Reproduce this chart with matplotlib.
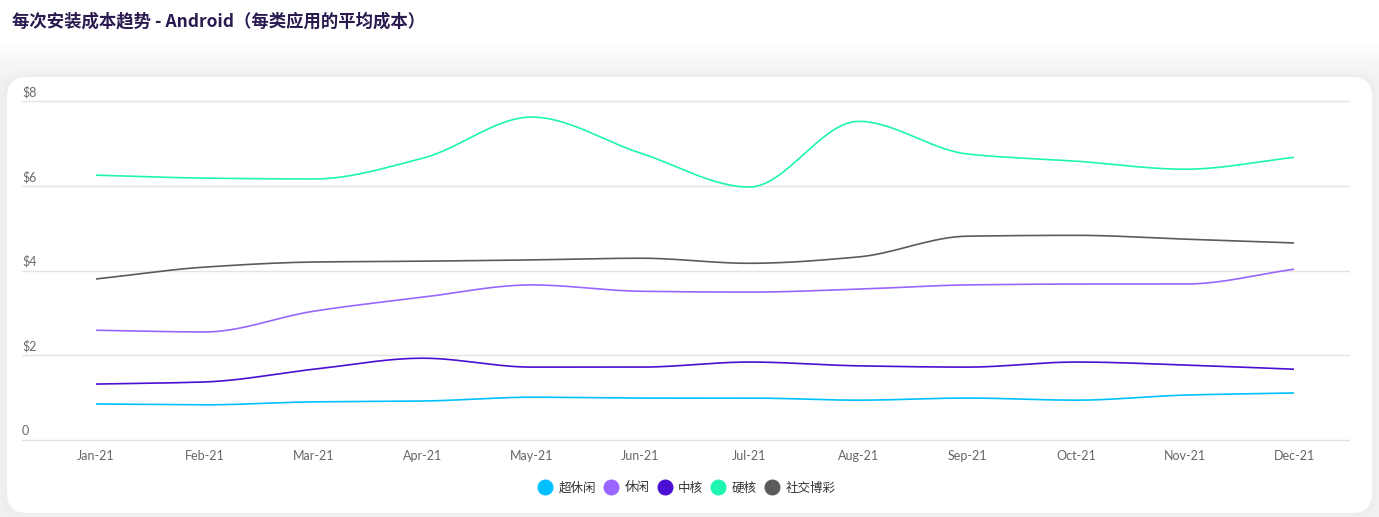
import numpy as np
import matplotlib
matplotlib.use("Agg")
import matplotlib.pyplot as plt
from matplotlib.patches import FancyBboxPatch
from matplotlib.lines import Line2D

plt.rcParams['font.family'] = ['Lato', 'Noto Sans CJK SC', 'DejaVu Sans']

title = "每次安装成本趋势 - Android（每类应用的平均成本）"
months = ["Jan-21", "Feb-21", "Mar-21", "Apr-21", "May-21", "Jun-21",
          "Jul-21", "Aug-21", "Sep-21", "Oct-21", "Nov-21", "Dec-21"]
series_names = ["超休闲", "休闲", "中核", "硬核", "社交博彩"]
hyper_casual = [0.85, 0.83, 0.90, 0.92, 1.01, 0.99, 0.99, 0.94, 0.99, 0.94, 1.06, 1.11]
casual = [2.59, 2.55, 3.04, 3.37, 3.66, 3.51, 3.49, 3.56, 3.66, 3.68, 3.68, 4.03]
midcore = [1.32, 1.37, 1.67, 1.93, 1.72, 1.72, 1.84, 1.75, 1.72, 1.84, 1.77, 1.67]
hardcore = [6.25, 6.18, 6.16, 6.65, 7.62, 6.77, 5.97, 7.52, 6.75, 6.58, 6.39, 6.67]
social_casino = [3.80, 4.08, 4.20, 4.22, 4.25, 4.29, 4.17, 4.32, 4.81, 4.83, 4.74, 4.65]
y_ticks = [0, 2, 4, 6, 8]
y_tick_labels = ["0", "$2", "$4", "$6", "$8"]

colors = ["#00c0ff", "#9966ff", "#4a0fd2", "#1ef5b0", "#5b5b5b"]
all_series = [hyper_casual, casual, midcore, hardcore, social_casino]


def monotone(x, y, n=30):
    x = np.asarray(x, float); y = np.asarray(y, float)
    h = np.diff(x); d = np.diff(y) / h
    m = np.zeros_like(y)
    m[0] = d[0]; m[-1] = d[-1]
    for i in range(1, len(y) - 1):
        if d[i - 1] * d[i] <= 0:
            m[i] = 0
        else:
            w1 = 2 * h[i] + h[i - 1]; w2 = h[i] + 2 * h[i - 1]
            m[i] = (w1 + w2) / (w1 / d[i - 1] + w2 / d[i])
    xs, ys = [], []
    for i in range(len(x) - 1):
        t = np.linspace(0, 1, n, endpoint=(i == len(x) - 2))
        h00 = 2 * t**3 - 3 * t**2 + 1
        h10 = t**3 - 2 * t**2 + t
        h01 = -2 * t**3 + 3 * t**2
        h11 = t**3 - t**2
        xs.append(x[i] + t * h[i])
        ys.append(h00 * y[i] + h10 * h[i] * m[i] + h01 * y[i + 1] + h11 * h[i] * m[i + 1])
    return np.concatenate(xs), np.concatenate(ys)


W, H = 1379, 517
fig = plt.figure(figsize=(W / 100, H / 100), dpi=100)
fig.patch.set_facecolor("white")

# background layer
bg = fig.add_axes([0, 0, 1, 1], zorder=0)
bg.set_xlim(0, W); bg.set_ylim(H, 0); bg.axis("off")
yy = np.arange(H)
vals = np.clip((yy - 42) / 38.0, 0, 1)
col_top = np.array([1.0, 1.0, 1.0]); col_bot = np.array([0.945, 0.945, 0.953])
img = col_top[None, :] * (1 - vals[:, None]) + col_bot[None, :] * vals[:, None]
bg.imshow(img[:, None, :], extent=[0, W, H, 0], aspect="auto", zorder=0)
for k, a in [(6, 0.015), (4, 0.02), (2, 0.03)]:
    bg.add_patch(FancyBboxPatch((7 - k, 77 - k), 1365 + 2 * k, 436 + 2 * k,
                                boxstyle="round,pad=0,rounding_size=%d" % (20 + k),
                                facecolor="#d8d8de", edgecolor="none", alpha=a, zorder=1))
bg.add_patch(FancyBboxPatch((7, 77), 1365, 436, boxstyle="round,pad=0,rounding_size=20",
                            facecolor="white", edgecolor="none", zorder=2))

fig.text(12 / W, 1 - 21 / H, title, fontsize=12.5, fontweight="bold", color="#2a1a50",
         va="center", ha="left", family=["Noto Sans CJK SC", "DejaVu Sans"])

# main axes
left, right = 22, 1349
top, bottom = 101, 440
ax = fig.add_axes([left / W, 1 - bottom / H, (right - left) / W, (bottom - top) / H], zorder=2)
ax.set_facecolor("none")
x = np.arange(len(months))
sp = (1294 - 96) / 11
ax.set_xlim(-(96 - left) / sp, 11 + (right - 1294) / sp)
ax.set_ylim(0, 8)
for s in ax.spines.values():
    s.set_visible(False)
for yt, lab in zip(y_ticks, y_tick_labels):
    ax.axhline(yt, color="#e3e3e3", lw=1.0, zorder=1, clip_on=False)
    ax.text(0.0, yt + 0.06, lab, transform=ax.get_yaxis_transform(), fontsize=9,
            color="#6a6a6a", ha="left", va="bottom")
ax.set_yticks([])
ax.set_xticks(x)
ax.set_xticklabels(months, fontsize=9, color="#666666")
ax.tick_params(axis="x", length=0, pad=7)

for name, vals_s, c in zip(series_names, all_series, colors):
    xs, ys = monotone(x, vals_s)
    ax.plot(xs, ys, color=c, lw=1.2, zorder=3, solid_capstyle="butt")

handles = [Line2D([], [], marker="o", linestyle="none", markersize=10.5,
                  markerfacecolor=c, markeredgecolor=c) for c in colors]
leg = fig.legend(handles, series_names, loc="center", bbox_to_anchor=(687 / W, 1 - 488 / H),
                 ncol=5, frameon=False, handlelength=1.0, handletextpad=0.6,
                 columnspacing=0.7,
                 prop={"family": ["Noto Sans CJK SC", "DejaVu Sans"], "size": 9})
for t in leg.get_texts():
    t.set_color("#333333")

fig.savefig("out.png", dpi=100)
